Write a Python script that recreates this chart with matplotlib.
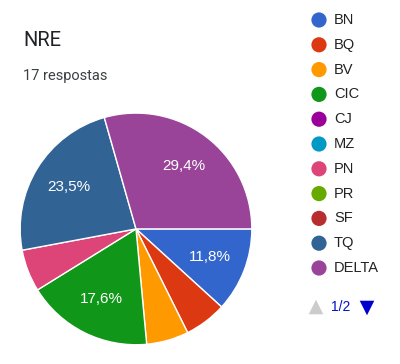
import numpy as np
import matplotlib.pyplot as plt

# dados do grafico
categorias = ["BN", "BQ", "BV", "CIC", "CJ", "MZ", "PN", "PR", "SF", "TQ", "DELTA"]
respostas = [2, 1, 1, 3, 0, 0, 1, 0, 0, 4, 5]
cores = ["#3366CC", "#DC3912", "#FF9900", "#109618", "#990099", "#0099C6",
         "#DD4477", "#66AA00", "#B82E2E", "#316395", "#994499"]
titulo = "NRE"
subtitulo = "17 respostas"


def rotulo(pct):
    if pct < 10:
        return ""
    return f"{pct:.1f}%".replace(".", ",")


def main():
    fig = plt.figure(figsize=(4, 3.64), dpi=100)

    # so fatias com valor
    valores = [v for v in respostas if v > 0]
    cores_pie = [c for v, c in zip(respostas, cores) if v > 0]

    ax = fig.add_axes([0.0475, 0.0496, 0.585, 0.643])
    wedges, texts, autotexts = ax.pie(
        valores, colors=cores_pie, startangle=0, counterclock=False,
        autopct=rotulo, pctdistance=0.68, radius=1,
        wedgeprops=dict(edgecolor="white", linewidth=1))
    for t in autotexts:
        t.set_color("white")
        t.set_fontsize(11)
        t.set_family("Liberation Sans")
    ax.set_xlim(-1.01, 1.01)
    ax.set_ylim(-1.01, 1.01)
    ax.set_aspect("equal")

    # camada em pixels para titulo e legenda
    ov = fig.add_axes([0, 0, 1, 1], zorder=-1)
    ov.set_xlim(0, 400)
    ov.set_ylim(364, 0)
    ov.axis("off")

    ov.text(23, 40, titulo, fontsize=14.5, family="Roboto", color="#202124",
            va="center", ha="left")
    ov.text(23, 76, subtitulo, fontsize=10.5, family="Roboto", color="#3c4043",
            va="center", ha="left")

    for i, (cat, cor) in enumerate(zip(categorias, cores)):
        y = 20 + i * 24.8
        ov.scatter([319], [y], s=120, color=cor, edgecolors="none")
        ov.text(334, y, cat, fontsize=10.5, family="Liberation Sans",
                color="#222222", va="center", ha="left")

    ov.scatter([316], [307], marker="^", s=110, color="#cccccc", edgecolors="none")
    ov.text(331, 307, "1/2", fontsize=10, family="Liberation Sans",
            color="#0011cc", va="center", ha="left")
    ov.scatter([367], [308], marker="v", s=110, color="#0000cc", edgecolors="none")

    fig.savefig("out.png", dpi=100)


if __name__ == "__main__":
    main()
